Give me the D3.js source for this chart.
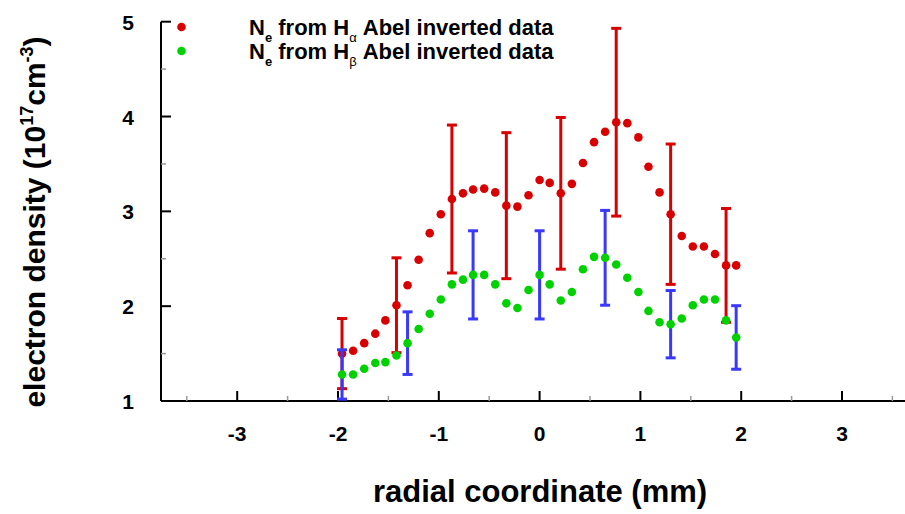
<!DOCTYPE html>
<html><head><meta charset="utf-8">
<script src="https://cdn.jsdelivr.net/npm/d3@7"></script>
<style>body{margin:0;background:#fff}svg{display:block}text{font-family:"Liberation Sans",Arial,sans-serif;font-weight:bold}</style>
</head><body><svg id="c" width="905" height="514"></svg>
<script>
const xVals=[-1.96,-1.85,-1.74,-1.63,-1.53,-1.42,-1.31,-1.20,-1.09,-0.98,-0.87,-0.76,-0.66,-0.55,-0.44,-0.33,-0.22,-0.11,0.00,0.10,0.21,0.32,0.43,0.54,0.65,0.76,0.87,0.98,1.08,1.19,1.30,1.41,1.52,1.63,1.74,1.85,1.95];
const hAlpha=[1.50,1.53,1.61,1.71,1.85,2.01,2.22,2.49,2.77,2.97,3.13,3.19,3.23,3.24,3.20,3.06,3.05,3.17,3.33,3.30,3.19,3.29,3.51,3.73,3.84,3.94,3.93,3.78,3.47,3.20,2.97,2.74,2.63,2.63,2.55,2.43,2.43];
const hBeta=[1.28,1.28,1.34,1.40,1.41,1.48,1.61,1.76,1.92,2.07,2.23,2.28,2.33,2.33,2.23,2.03,1.98,2.17,2.33,2.23,2.06,2.15,2.39,2.52,2.51,2.44,2.30,2.15,1.95,1.83,1.81,1.87,2.01,2.07,2.07,1.85,1.67];
const alphaErrIdx=[0,5,10,15,20,25,30,35];
const alphaErr=[0.37,0.50,0.78,0.77,0.80,0.99,0.74,0.60];
const betaErrIdx=[0,6,12,18,24,30,36];
const betaErr=[0.26,0.33,0.465,0.465,0.50,0.355,0.335];
const xTicks=[-3,-2,-1,0,1,2,3];
const xMinor=[-3.5,-2.5,-1.5,-0.5,0.5,1.5,2.5,3.5];
const yTicks=[1,2,3,4,5];
const yMinor=[1.5,2.5,3.5,4.5];

const RED="#d80000",GREEN="#00d200",BLUE="#3838ff";
const svg=d3.select("#c");
const x=d3.scaleLinear().domain([-2,3]).range([338,842]);
const y=d3.scaleLinear().domain([1,5]).range([401,21.7]);
const x0=161, xEnd=905;

// axes lines
svg.append("line").attr("x1",x0).attr("x2",xEnd).attr("y1",y(1)).attr("y2",y(1)).attr("stroke","#000").attr("stroke-width",2);
svg.append("line").attr("x1",x0).attr("x2",x0).attr("y1",y(1)).attr("y2",y(5)).attr("stroke","#000").attr("stroke-width",2);
// x ticks
svg.selectAll(".xt").data(xTicks).enter().append("line").attr("x1",d=>x(d)).attr("x2",d=>x(d)).attr("y1",y(1)).attr("y2",y(1)-10).attr("stroke","#000").attr("stroke-width",2);
svg.selectAll(".xm").data(xMinor).enter().append("line").attr("x1",d=>x(d)).attr("x2",d=>x(d)).attr("y1",y(1)).attr("y2",y(1)-5).attr("stroke","#999").attr("stroke-width",1.5);
svg.selectAll(".xl").data(xTicks).enter().append("text").attr("x",d=>x(d)).attr("y",441).attr("text-anchor","middle").attr("font-size",21).text(d=>d);
// y ticks
svg.selectAll(".yt").data(yTicks).enter().append("line").attr("x1",x0).attr("x2",x0+10).attr("y1",d=>y(d)).attr("y2",d=>y(d)).attr("stroke","#000").attr("stroke-width",2);
svg.selectAll(".ym").data(yMinor).enter().append("line").attr("x1",x0).attr("x2",x0+5).attr("y1",d=>y(d)).attr("y2",d=>y(d)).attr("stroke","#999").attr("stroke-width",1.5);
svg.selectAll(".yl").data(yTicks).enter().append("text").attr("x",134).attr("y",d=>y(d)+8).attr("text-anchor","end").attr("font-size",21).text(d=>d);

// error bars
function errBars(vals,idx,err,color){
  const g=svg.append("g").attr("stroke",color).attr("stroke-width",3).attr("fill","none");
  idx.forEach((i,k)=>{
    const cx=x(xVals[i]),t=y(vals[i]+err[k]),b=y(vals[i]-err[k]);
    g.append("line").attr("x1",cx).attr("x2",cx).attr("y1",t).attr("y2",b);
    g.append("line").attr("x1",cx-5).attr("x2",cx+5).attr("y1",t).attr("y2",t);
    g.append("line").attr("x1",cx-5).attr("x2",cx+5).attr("y1",b).attr("y2",b);
  });
}
errBars(hAlpha,alphaErrIdx,alphaErr,RED);
svg.append("g").selectAll("circle").data(hAlpha).enter().append("circle").attr("cx",(d,i)=>x(xVals[i])).attr("cy",d=>y(d)).attr("r",4.3).attr("fill",RED);
errBars(hBeta,betaErrIdx,betaErr,BLUE);
svg.append("g").selectAll("circle").data(hBeta).enter().append("circle").attr("cx",(d,i)=>x(xVals[i])).attr("cy",d=>y(d)).attr("r",4.3).attr("fill",GREEN);

// legend
const leg=[{c:RED,sub:"α",y:27},{c:GREEN,sub:"β",y:51}];
leg.forEach(l=>{
  svg.append("circle").attr("cx",181.5).attr("cy",l.y).attr("r",4.3).attr("fill",l.c);
  const t=svg.append("text").attr("x",249).attr("y",l.y+8).attr("font-size",22);
  t.append("tspan").text("N");
  t.append("tspan").attr("font-size",13).attr("dy",7).text("e");
  t.append("tspan").attr("dy",-7).text(" from H");
  t.append("tspan").attr("font-size",13).attr("dy",7).attr("font-weight","normal").text(l.sub);
  t.append("tspan").attr("dy",-7).text(" Abel inverted data");
});

// axis titles
svg.append("text").attr("x",540).attr("y",502).attr("text-anchor","middle").attr("font-size",31).text("radial coordinate (mm)");
const yt=svg.append("text").attr("transform","translate(45,222) rotate(-90)").attr("text-anchor","middle").attr("font-size",30);
yt.append("tspan").text("electron density (10");
yt.append("tspan").attr("font-size",18).attr("dy",-12).text("17");
yt.append("tspan").attr("dy",12).text("cm");
yt.append("tspan").attr("font-size",18).attr("dy",-12).text("-3");
yt.append("tspan").attr("dy",12).text(")");
</script></body></html>
